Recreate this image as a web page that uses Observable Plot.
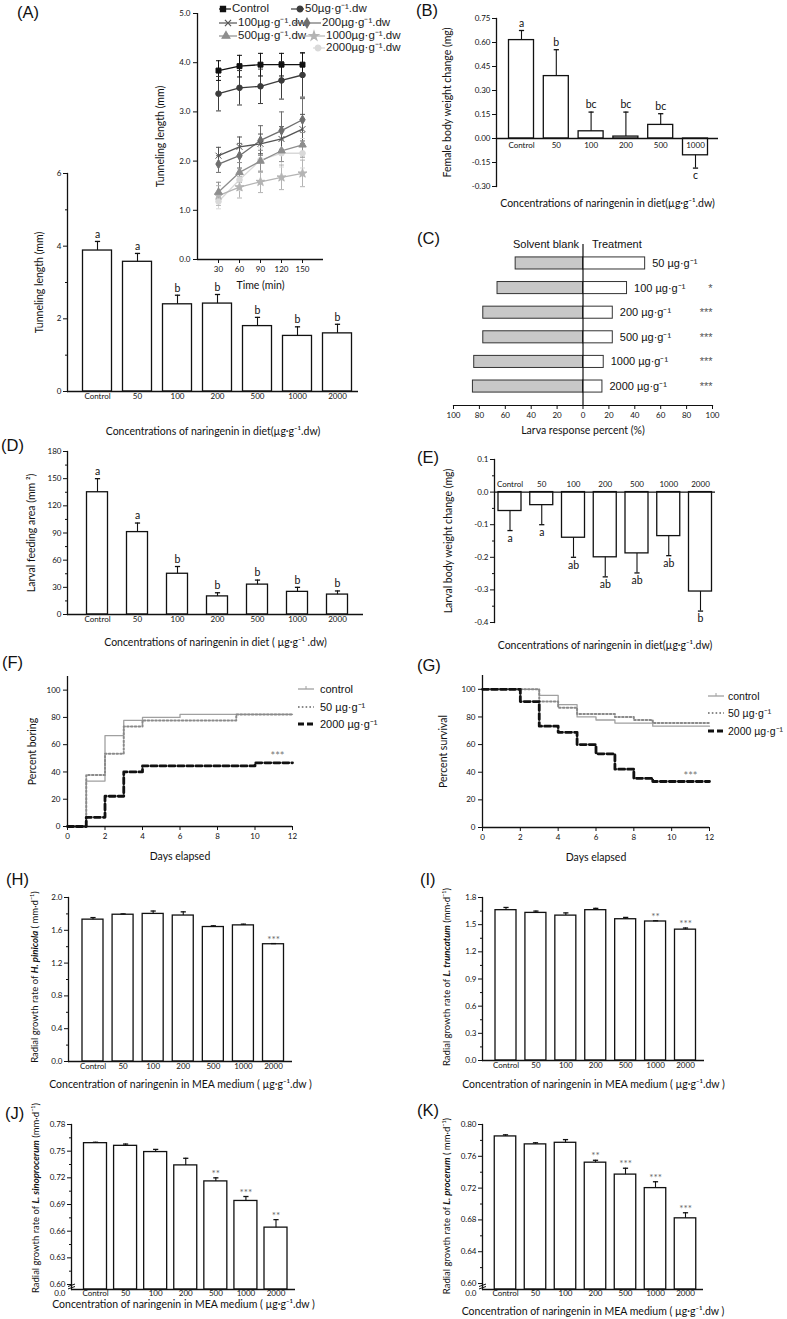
<!DOCTYPE html>
<html>
<head>
<meta charset="utf-8">
<script src="https://cdn.jsdelivr.net/npm/d3@7"></script>
<script src="https://cdn.jsdelivr.net/npm/@observablehq/plot@0.6"></script>
<style>
  html, body { margin: 0; padding: 0; background: #fff; }
  #fig { position: relative; width: 787px; height: 1319px; overflow: hidden; background: #fff; font-family: "Liberation Sans", Arial, sans-serif; color: #111; }
  #fig svg { overflow: visible; }
  .plab { position: absolute; font-size: 16.5px; line-height: 17px; font-family: "Liberation Sans", Arial, sans-serif; }
  .ylab { position: absolute; white-space: nowrap; transform: translate(-50%, -50%) rotate(-90deg); font-family: Lato, sans-serif; font-size: 9.5px; line-height: 1; }
  .leg { position: absolute; display: flex; align-items: center; white-space: nowrap; line-height: 1; }
  g[aria-label="x-axis label"], g[aria-label="y-axis label"] { font-size: 10.5px; }
</style>
</head>
<body>
<div id="fig"></div>
<script>
// ================= DATA =================
const concs7 = ["Control","50","100","200","500","1000","2000"];
const concs6 = ["Control","50","100","200","500","1000"];

// (A) tunneling length
const tunnelMean = [3.88, 3.57, 2.40, 2.42, 1.80, 1.53, 1.60];
const tunnelSE   = [0.25, 0.23, 0.25, 0.25, 0.24, 0.25, 0.25];
const tunnelLetters = ["a","a","b","b","b","b","b"];
const ticksA = [0, 2, 4, 6];
const minorA = [1, 3, 5];

// (A) inset: tunneling length over time
const timeMin = [30, 60, 90, 120, 150];
const insetSeries = ["Control","50µg·g⁻¹.dw","100µg·g⁻¹.dw","200µg·g⁻¹.dw","500µg·g⁻¹.dw","1000µg·g⁻¹.dw","2000µg·g⁻¹.dw"];
const insetControl = [3.84, 3.93, 3.96, 3.96, 3.96];
const insetControlSE = [0.20, 0.22, 0.23, 0.23, 0.24];
const inset50 = [3.37, 3.49, 3.52, 3.64, 3.75];
const inset50SE = [0.35, 0.35, 0.35, 0.38, 0.45];
const inset100 = [2.11, 2.29, 2.35, 2.45, 2.65];
const inset100SE = [0.17, 0.20, 0.20, 0.25, 0.30];
const inset200 = [1.94, 2.11, 2.42, 2.62, 2.84];
const inset200SE = [0.17, 0.25, 0.30, 0.38, 0.43];
const inset500 = [1.37, 1.77, 2.00, 2.21, 2.33];
const inset500SE = [0.20, 0.20, 0.22, 0.22, 0.25];
const inset1000 = [1.30, 1.47, 1.58, 1.67, 1.75];
const inset1000SE = [0.20, 0.22, 0.22, 0.25, 0.27];
const inset2000 = [1.18, 1.62, 2.02, 2.16, 2.16];
const inset2000SE = [0.15, 0.22, 0.25, 0.28, 0.30];
const ticksInsetY = [0, 1, 2, 3, 4, 5];

// (B) female body weight change
const femaleMean = [0.615, 0.390, 0.045, 0.012, 0.085, -0.105];
const femaleSE   = [0.060, 0.165, 0.120, 0.153, 0.070, 0.080];
const femaleLetters = ["a","b","bc","bc","bc","c"];
const ticksB = [-0.30, -0.15, 0, 0.15, 0.30, 0.45, 0.60, 0.75];

// (C) choice test
const choiceDoses = ["50","100","200","500","1000","2000"];
const blankPct = [52, 66, 77, 77, 84, 85];
const treatPct = [48, 34, 23, 23, 16, 15];
const choiceSig = ["", "*", "***", "***", "***", "***"];
const ticksC = [-100, -80, -60, -40, -20, 0, 20, 40, 60, 80, 100];

// (D) larval feeding area
const feedMean = [135, 91, 45, 20, 33, 25, 22];
const feedSE   = [15, 10, 8, 4, 5, 5, 4];
const feedLetters = ["a","a","b","b","b","b","b"];
const ticksD = [0, 30, 60, 90, 120, 150, 180];
const minorD = [15, 45, 75, 105, 135, 165];

// (E) larval body weight change
const larvaMean = [-0.058, -0.040, -0.140, -0.200, -0.188, -0.135, -0.305];
const larvaSE   = [0.060, 0.060, 0.060, 0.060, 0.060, 0.060, 0.060];
const larvaLetters = ["a","a","ab","ab","ab","ab","b"];
const ticksE = [-0.4, -0.3, -0.2, -0.1, 0, 0.1];
const minorE = [-0.35, -0.25, -0.15, -0.05, 0.05];

// (F) percent boring
const kmSeries = ["control", "50 µg·g⁻¹", "2000 µg·g⁻¹"];
const borCtlDays = [0, 1, 2, 3, 4, 6, 12];
const borCtlPct  = [0, 33.3, 66.7, 77.8, 80.0, 82.2, 82.2];
const bor50Days  = [0, 1, 2, 3, 4, 9, 12];
const bor50Pct   = [0, 37.8, 53.3, 73.3, 77.8, 82.2, 82.2];
const bor2000Days = [0, 1, 2, 3, 4, 10, 12];
const bor2000Pct  = [0, 6.7, 22.2, 40.0, 44.4, 46.7, 46.7];

// (G) percent survival
const surCtlDays = [0, 3, 4, 5, 6, 7, 9, 12];
const surCtlPct  = [100, 95.6, 88.9, 80.0, 77.8, 75.6, 73.3, 73.3];
const sur50Days  = [0, 3, 4, 5, 7, 8, 9, 12];
const sur50Pct   = [100, 91.1, 86.7, 82.2, 80.0, 77.8, 75.6, 75.6];
const sur2000Days = [0, 2, 3, 4, 5, 6, 7, 8, 9, 12];
const sur2000Pct  = [100, 91.1, 73.3, 68.9, 60.0, 53.3, 42.2, 35.6, 33.3, 33.3];
const ticksDays = [0, 2, 4, 6, 8, 10, 12];
const ticksPct = [0, 20, 40, 60, 80, 100];

// (H) H. pinicola
const hMean = [1.73, 1.79, 1.80, 1.78, 1.64, 1.66, 1.43];
const hSE   = [0.025, 0.010, 0.035, 0.045, 0.015, 0.015, 0.008];
const hSig  = ["","","","","","","***"];
const ticksH = [0, 0.4, 0.8, 1.2, 1.6, 2.0];
const minorH = [0.2, 0.6, 1.0, 1.4, 1.8];

// (I) L. truncatum
const iMean = [1.66, 1.63, 1.60, 1.66, 1.56, 1.535, 1.445];
const iSE   = [0.030, 0.020, 0.030, 0.020, 0.020, 0.008, 0.018];
const iSig  = ["","","","","","**","***"];
const ticksI = [0, 0.3, 0.6, 0.9, 1.2, 1.5, 1.8];
const minorI = [0.15, 0.45, 0.75, 1.05, 1.35, 1.65];

// (J) L. sinoprocerum
const jMean = [0.759, 0.756, 0.749, 0.734, 0.716, 0.694, 0.664];
const jSE   = [0.001, 0.002, 0.003, 0.008, 0.004, 0.005, 0.009];
const jSig  = ["","","","","**","***","**"];
const ticksJ = [0.60, 0.63, 0.66, 0.69, 0.72, 0.75, 0.78];
const minorJ = [0.615, 0.645, 0.675, 0.705, 0.735, 0.765];

// (K) L. procerum
const kMean = [0.785, 0.775, 0.777, 0.752, 0.737, 0.720, 0.682];
const kSE   = [0.002, 0.002, 0.004, 0.003, 0.008, 0.008, 0.007];
const kSig  = ["","","","**","***","***","***"];
const ticksK = [0.60, 0.64, 0.68, 0.72, 0.76, 0.80];
const minorK = [0.62, 0.66, 0.70, 0.74, 0.78];

// ================= STYLE / LAYOUT =================
const insetColors = ["#111111","#3c3c3c","#545454","#6e6e6e","#8e8e8e","#b4b4b4","#d9d9d9"];
const insetSymbols = ["square","circle","times","diamond","triangle","star","circle"];
const FONT = "Lato, 'Open Sans', sans-serif";
const MARG = {l: 72, r: 14, t: 16, b: 48};
const fig = document.getElementById("fig");

const capSymbol = {draw(ctx, size) { const r = Math.sqrt(size / Math.PI); ctx.moveTo(-r, 0); ctx.lineTo(r, 0); }};
const breakSymbol = {draw(ctx, size) { const r = Math.sqrt(size / Math.PI); ctx.moveTo(-r, 0); ctx.lineTo(r, -r * 0.7); ctx.moveTo(-r, r * 0.7); ctx.lineTo(r, 0); }};

function mount(plot, fr, m) {
  plot.style.position = "absolute";
  plot.style.left = (fr.L - m.l) + "px";
  plot.style.top = (fr.T - m.t) + "px";
  fig.appendChild(plot);
}
function baseOpts(fr, m) {
  return {
    width: fr.R - fr.L + m.l + m.r, height: fr.B - fr.T + m.t + m.b,
    marginLeft: m.l, marginRight: m.r, marginTop: m.t, marginBottom: m.b,
    style: {background: "transparent", fontFamily: FONT, fontSize: "8px", color: "#111", overflow: "visible"}
  };
}
function bandX(cats, fr, firstC, lastC, bw) {
  const step = (lastC - firstC) / (cats.length - 1);
  return {type: "band", domain: cats, round: false, paddingInner: 1 - bw / step, paddingOuter: 0,
          insetLeft: (firstC - bw / 2) - fr.L, insetRight: fr.R - (lastC + bw / 2)};
}

function barPanel(cfg) {
  const m = MARG;
  const base = cfg.base ?? 0;
  const rows = cfg.cats.map((c, i) => ({
    c, m: cfg.mean[i], tip: cfg.mean[i] + (cfg.mean[i] < 0 ? -cfg.se[i] : cfg.se[i]),
    lab: cfg.letters ? cfg.letters[i] : "", star: cfg.stars ? cfg.stars[i] : ""
  }));
  const marks = [
    Plot.barY(rows, {x: "c", y1: () => base, y2: "m", fill: "white", stroke: "#111", strokeWidth: 1.3}),
    Plot.ruleX(rows, {x: "c", y1: "m", y2: "tip", stroke: "#111", strokeWidth: 1.1}),
    Plot.dot(rows, {x: "c", y: "tip", symbol: capSymbol, r: 2.6, fill: "none", stroke: "#111", strokeWidth: 1.3}),
    Plot.text(rows.filter(d => d.m >= 0), {x: "c", y: "tip", text: "lab", dy: -7, fontSize: 10.5, fill: "#111"}),
    Plot.text(rows.filter(d => d.m < 0), {x: "c", y: "tip", text: "lab", dy: 8, fontSize: 10.5, fill: "#111"}),
    Plot.text(rows, {x: "c", y: "tip", text: "star", dy: -4, fontSize: 10, fill: "#666"}),
    Plot.frame({anchor: "left", stroke: "#111", strokeWidth: 1.3}),
    Plot.ruleY([base], {stroke: "#111", strokeWidth: 1.3}),
    Plot.axisY({ticks: cfg.yTicks, tickFormat: cfg.yFmt, tickSize: 4, tickPadding: 2, fontSize: 8,
                label: cfg.ylabel ?? null, labelAnchor: "center", labelOffset: cfg.yOff, labelArrow: "none"})
  ];
  if (cfg.yMinor) marks.push(Plot.axisY({ticks: cfg.yMinor, tickFormat: () => "", tickSize: 2, label: null}));
  if (cfg.tickPos === "bottom") {
    marks.push(Plot.axisX({tickSize: 0, tickPadding: cfg.tickPad ?? 2, fontSize: 8, label: cfg.xlabel, labelAnchor: "center", labelOffset: cfg.xOff, labelArrow: "none"}));
  } else {
    marks.push(Plot.axisX({tickSize: 0, tickFormat: () => "", label: cfg.xlabel, labelAnchor: "center", labelOffset: cfg.xOff, labelArrow: "none"}));
    marks.push(Plot.text(rows, {x: "c", y: () => 0, text: "c", dy: cfg.tickPos === "zeroBelow" ? 7 : -8, fontSize: 8, fill: "#111"}));
  }
  if (cfg.breakAxis) {
    marks.push(Plot.dot([0], {frameAnchor: "bottom-left", dy: -3, symbol: breakSymbol, r: 3.5, fill: "none", stroke: "#111", strokeWidth: 1}));
    marks.push(Plot.text(["0.0"], {frameAnchor: "bottom-left", text: d => d, textAnchor: "end", dx: -6, dy: 6, fontSize: 8}));
  }
  const plot = Plot.plot({
    ...baseOpts(cfg.fr, m),
    x: bandX(cfg.cats, cfg.fr, cfg.firstC, cfg.lastC, cfg.bw),
    y: {domain: cfg.yDomain},
    marks
  });
  mount(plot, cfg.fr, m);
}

// ---------- (A) main ----------
barPanel({cats: concs7, mean: tunnelMean, se: tunnelSE, letters: tunnelLetters,
  fr: {L: 67, R: 358, T: 173, B: 391}, yDomain: [0, 6], yTicks: ticksA, yMinor: minorA, yFmt: d => d,
  firstC: 97, lastC: 337, bw: 29, ylabel: "Tunneling length (mm)", yOff: 32,
  xlabel: "Concentrations of naringenin in diet(µg·g⁻¹.dw)", xOff: 43, tickPos: "bottom"});

// ---------- (A) inset ----------
{
  const fr = {L: 197, R: 323, T: 13, B: 259}, m = MARG;
  const means = [insetControl, inset50, inset100, inset200, inset500, inset1000, inset2000];
  const ses = [insetControlSE, inset50SE, inset100SE, inset200SE, inset500SE, inset1000SE, inset2000SE];
  const table = [];
  for (let k = insetSeries.length - 1; k >= 0; k--)
    timeMin.forEach((t, i) => table.push({s: insetSeries[k], t, v: means[k][i], e: ses[k][i]}));
  const plot = Plot.plot({
    ...baseOpts(fr, m),
    x: {domain: [0, 180]}, y: {domain: [0, 5]},
    color: {domain: insetSeries, range: insetColors},
    symbol: {domain: insetSeries, range: insetSymbols},
    marks: [
      Plot.ruleX(table, {x: "t", y1: d => d.v - d.e, y2: d => d.v + d.e, stroke: "s", strokeWidth: 1}),
      Plot.dot(table, {x: "t", y: d => d.v + d.e, symbol: capSymbol, r: 2.5, fill: "none", stroke: "s", strokeWidth: 1}),
      Plot.dot(table, {x: "t", y: d => d.v - d.e, symbol: capSymbol, r: 2.5, fill: "none", stroke: "s", strokeWidth: 1}),
      Plot.line(table, {x: "t", y: "v", z: "s", stroke: "s", strokeWidth: 1.3}),
      Plot.dot(table, {x: "t", y: "v", symbol: "s", fill: "s", stroke: "s", strokeWidth: 1, r: 2.8}),
      Plot.ruleX([0], {stroke: "#111", strokeWidth: 1.3}),
      Plot.ruleY([0], {stroke: "#111", strokeWidth: 1.3}),
      Plot.axisY({ticks: ticksInsetY, tickSize: 4, tickPadding: 3, fontSize: 8, label: "Tunneling length (mm)", labelAnchor: "center", labelOffset: 41, labelArrow: "none"}),
      Plot.axisX({ticks: timeMin, tickSize: 4, tickPadding: 3, fontSize: 8, label: "Time (min)", labelAnchor: "center", labelOffset: 29.7, labelArrow: "none"})
    ]
  });
  mount(plot, fr, m);
}

// ---------- (B) ----------
barPanel({cats: concs6, mean: femaleMean, se: femaleSE, letters: femaleLetters,
  fr: {L: 496, R: 718, T: 18, B: 186}, yDomain: [-0.30, 0.75], yTicks: ticksB, yFmt: d => d.toFixed(2),
  firstC: 521, lastC: 695, bw: 25, ylabel: "Female body weight change (mg)", yOff: 53,
  xlabel: "Concentrations of naringenin in diet(µg·g⁻¹.dw)", xOff: 20.7, tickPos: "zeroBelow"});

// ---------- (C) ----------
{
  const fr = {L: 453, R: 712, T: 244, B: 405}, m = MARG;
  const rows = choiceDoses.map((d, i) => ({d, blank: blankPct[i], treat: treatPct[i], sig: choiceSig[i]}));
  const arial = "'Liberation Sans', Arial, sans-serif";
  const plot = Plot.plot({
    ...baseOpts(fr, m),
    x: {domain: [-100, 100]},
    y: {type: "band", domain: choiceDoses, paddingInner: 0.51, paddingOuter: 0.525, round: false, axis: null},
    marks: [
      Plot.barX(rows, {y: "d", x1: () => 0, x2: d => -d.blank, fill: "#c8c8c8", stroke: "#333", strokeWidth: 1}),
      Plot.barX(rows, {y: "d", x1: () => 0, x2: "treat", fill: "white", stroke: "#333", strokeWidth: 1}),
      Plot.ruleX([0], {stroke: "#111", strokeWidth: 1.2}),
      Plot.text(rows, {y: "d", x: "treat", text: d => d.d + " µg·g⁻¹", textAnchor: "start", dx: 7, fontSize: 11, fontFamily: arial, fill: "#111"}),
      Plot.text(rows, {y: "d", frameAnchor: "right", text: "sig", fontSize: 11, fill: "#555", fontFamily: arial}),
      Plot.text(["Solvent blank"], {x: () => 0, frameAnchor: "top", text: d => d, textAnchor: "end", dx: -4, dy: -4, fontSize: 11, fontFamily: arial, fill: "#111"}),
      Plot.text(["Treatment"], {x: () => 0, frameAnchor: "top", text: d => d, textAnchor: "start", dx: 9, dy: -4, fontSize: 11, fontFamily: arial, fill: "#111"}),
      Plot.frame({anchor: "bottom", stroke: "#111", strokeWidth: 1.2}),
      Plot.axisX({ticks: ticksC, tickFormat: d => Math.abs(d), tickSize: 4, tickPadding: 3, fontSize: 8,
                  label: "Larva response percent (%)", labelAnchor: "center", labelOffset: 28.7, labelArrow: "none"})
    ]
  });
  mount(plot, fr, m);
}

// ---------- (D) ----------
barPanel({cats: concs7, mean: feedMean, se: feedSE, letters: feedLetters,
  fr: {L: 67, R: 363, T: 451, B: 614}, yDomain: [0, 180], yTicks: ticksD, yMinor: minorD, yFmt: d => d,
  firstC: 97, lastC: 337, bw: 21, ylabel: "Larval feeding area (mm ²)", yOff: 40,
  xlabel: "Concentrations of naringenin in diet ( µg·g⁻¹ .dw)", xOff: 31.7, tickPos: "bottom"});

// ---------- (E) ----------
barPanel({cats: concs7, mean: larvaMean, se: larvaSE, letters: larvaLetters,
  fr: {L: 494, R: 715, T: 459, B: 622}, yDomain: [-0.4, 0.1], yTicks: ticksE, yMinor: minorE, yFmt: d => d.toFixed(1),
  firstC: 509.5, lastC: 700, bw: 23, ylabel: "Larval body weight change (mg)", yOff: 50,
  xlabel: "Concentrations of naringenin in diet(µg·g⁻¹.dw)", xOff: 26.7, tickPos: "zeroAbove"});

// ---------- (F) & (G) ----------
function kmPanel(cfg) {
  const m = MARG;
  const mk = (days, pct) => days.map((d, i) => ({d, p: pct[i]}));
  const s2000 = mk(cfg.d2000, cfg.p2000);
  const last = s2000[s2000.length - 1];
  const plot = Plot.plot({
    ...baseOpts(cfg.fr, m),
    x: {domain: [0, 12]}, y: {domain: [0, 110]},
    marks: [
      Plot.line(mk(cfg.dCtl, cfg.pCtl), {x: "d", y: "p", curve: "step-after", stroke: "#a0a0a0", strokeWidth: 1.3}),
      Plot.line(mk(cfg.d50, cfg.p50), {x: "d", y: "p", curve: "step-after", stroke: "#8a8a8a", strokeWidth: 2, strokeDasharray: "1.6,2.2"}),
      Plot.line(s2000, {x: "d", y: "p", curve: "step-after", stroke: "#111", strokeWidth: 2.8, strokeDasharray: "6,3"}),
      Plot.text([last], {x: "d", y: "p", text: () => "***", dx: cfg.starDx, dy: cfg.starDy, fill: "#777", fontSize: 11}),
      Plot.ruleY([0], {stroke: "#111", strokeWidth: 1.3}),
      Plot.ruleX([0], {stroke: "#111", strokeWidth: 1.3}),
      Plot.axisY({ticks: ticksPct, tickSize: 4, tickPadding: 3, fontSize: 8, label: cfg.ylabel, labelAnchor: "center", labelOffset: cfg.yOff, labelArrow: "none"}),
      Plot.axisX({ticks: ticksDays, tickSize: 4, tickPadding: 3, fontSize: 8, label: "Days elapsed", labelAnchor: "center", labelOffset: cfg.xOff, labelArrow: "none"})
    ]
  });
  mount(plot, cfg.fr, m);
}
kmPanel({fr: {L: 67, R: 292, T: 676, B: 826}, dCtl: borCtlDays, pCtl: borCtlPct, d50: bor50Days, p50: bor50Pct,
  d2000: bor2000Days, p2000: bor2000Pct, ylabel: "Percent boring", yOff: 39, xOff: 33.7, starDx: -15, starDy: -6});
kmPanel({fr: {L: 482, R: 709, T: 675, B: 827}, dCtl: surCtlDays, pCtl: surCtlPct, d50: sur50Days, p50: sur50Pct,
  d2000: sur2000Days, p2000: sur2000Pct, ylabel: "Percent survival", yOff: 43, xOff: 33.7, starDx: -19, starDy: -5});

// ---------- (H)-(K) ----------
const mediumLabel = "Concentration of naringenin in MEA medium ( µg·g⁻¹.dw )";
barPanel({cats: concs7, mean: hMean, se: hSE, stars: hSig,
  fr: {L: 68, R: 292, T: 897, B: 1061}, yDomain: [0, 2], yTicks: ticksH, yMinor: minorH, yFmt: d => d.toFixed(1),
  firstC: 92.5, lastC: 273, bw: 21, xlabel: mediumLabel, xOff: 26.7, tickPos: "bottom"});
barPanel({cats: concs7, mean: iMean, se: iSE, stars: iSig,
  fr: {L: 482, R: 704, T: 897, B: 1060}, yDomain: [0, 1.8], yTicks: ticksI, yMinor: minorI, yFmt: d => d.toFixed(1),
  firstC: 505.5, lastC: 685, bw: 21, xlabel: mediumLabel, xOff: 27.7, tickPos: "bottom"});
barPanel({cats: concs7, mean: jMean, se: jSE, stars: jSig, base: 0.5944, breakAxis: true,
  fr: {L: 71, R: 295, T: 1124, B: 1289}, yDomain: [0.5944, 0.78], yTicks: ticksJ, yMinor: minorJ, yFmt: d => d.toFixed(2),
  firstC: 95, lastC: 275.5, bw: 23, xlabel: mediumLabel, xOff: 18.5, tickPad: 1, tickPos: "bottom"});
barPanel({cats: concs7, mean: kMean, se: kSE, stars: kSig, base: 0.5925, breakAxis: true,
  fr: {L: 482, R: 703, T: 1124, B: 1289}, yDomain: [0.5925, 0.80], yTicks: ticksK, yMinor: minorK, yFmt: d => d.toFixed(2),
  firstC: 505, lastC: 685, bw: 21.5, xlabel: mediumLabel, xOff: 25.7, tickPad: 1, tickPos: "bottom"});

// rotated y titles with italic species names (H-K)
const speciesLabels = [
  {x: 35, y: 977, sp: "H. pinicola", post: " ( mm·d⁻¹)"},
  {x: 447, y: 977, sp: "L. truncatum", post: " (mm·d⁻¹)"},
  {x: 36, y: 1198, sp: "L. sinoprocerum", post: " (mm·d⁻¹)"},
  {x: 447, y: 1206, sp: "L. procerum", post: " ( mm·d⁻¹)"}
];
speciesLabels.forEach(o => {
  const d = document.createElement("div");
  d.className = "ylab";
  d.style.left = o.x + "px"; d.style.top = o.y + "px";
  d.innerHTML = `Radial growth rate of <b><i>${o.sp}</i></b>${o.post}`;
  fig.appendChild(d);
});

// ---------- legends ----------
const insetLegendPos = [
  {left: 219, y: 9, lw: 12, sx: 4},
  {left: 291, y: 9, lw: 13, sx: 9},
  {left: 219, y: 23, lw: 18, sx: 9},
  {left: 294, y: 23, lw: 27, sx: 13},
  {left: 219, y: 36, lw: 18, sx: 7},
  {left: 304, y: 36, lw: 21, sx: 10},
  {left: 313, y: 48, lw: 12, sx: 5}
];
const symbolType = {square: d3.symbolSquare, circle: d3.symbolCircle, times: d3.symbolTimes, diamond: d3.symbolDiamond, triangle: d3.symbolTriangle, star: d3.symbolStar};
insetSeries.forEach((name, k) => {
  const p = insetLegendPos[k], col = insetColors[k], sym = insetSymbols[k];
  const path = d3.symbol(symbolType[sym], 26)();
  const div = document.createElement("div");
  div.className = "leg";
  div.style.left = p.left + "px"; div.style.top = (p.y - 7) + "px"; div.style.height = "14px"; div.style.fontSize = "11.5px";
  div.innerHTML = `<svg width="${p.lw}" height="10" style="overflow:visible"><line x1="0" x2="${p.lw}" y1="5" y2="5" stroke="${col}" stroke-width="1.2"/>` +
    `<path d="${path}" transform="translate(${p.sx},5)" fill="${sym === 'times' ? 'none' : col}" stroke="${col}" stroke-width="1.2"/></svg>` +
    `<span style="margin-left:1px;color:#222">${name}</span>`;
  fig.appendChild(div);
});

const kmStyles = [
  {stroke: "#a0a0a0", width: 1.3, dash: "", tick: true},
  {stroke: "#8a8a8a", width: 2, dash: "1.6,2.2", tick: false},
  {stroke: "#111", width: 2.8, dash: "6,3", tick: false}
];
function kmLegend(left, ys, fontSize, gap) {
  kmSeries.forEach((name, k) => {
    const s = kmStyles[k];
    const div = document.createElement("div");
    div.className = "leg";
    div.style.left = left + "px"; div.style.top = (ys[k] - 8) + "px"; div.style.height = "16px"; div.style.fontSize = fontSize + "px";
    div.innerHTML = `<svg width="16" height="10" style="overflow:visible"><line x1="0" x2="16" y1="5" y2="5" stroke="${s.stroke}" stroke-width="${s.width}" stroke-dasharray="${s.dash}"/>` +
      (s.tick ? `<line x1="8" x2="8" y1="2" y2="5" stroke="${s.stroke}" stroke-width="1"/>` : "") +
      `</svg><span style="margin-left:${gap}px;color:#111">${name}</span>`;
    fig.appendChild(div);
  });
}
kmLegend(298, [689, 707, 724], 11, 6);
kmLegend(708, [696, 713, 731], 10.5, 4);

// ---------- panel letters ----------
const panelLetters = [
  ["(A)", 17, 12], ["(B)", 416, 10], ["(C)", 417, 238], ["(D)", 1, 445], ["(E)", 417, 457],
  ["(F)", 2, 662], ["(G)", 417, 665], ["(H)", 6, 879], ["(I)", 420, 879], ["(J)", 5, 1113], ["(K)", 417, 1110]
];
panelLetters.forEach(([t, x, y]) => {
  const d = document.createElement("div");
  d.className = "plab"; d.textContent = t;
  d.style.left = x + "px"; d.style.top = (y - 8.5) + "px";
  fig.appendChild(d);
});
</script>
</body>
</html>
